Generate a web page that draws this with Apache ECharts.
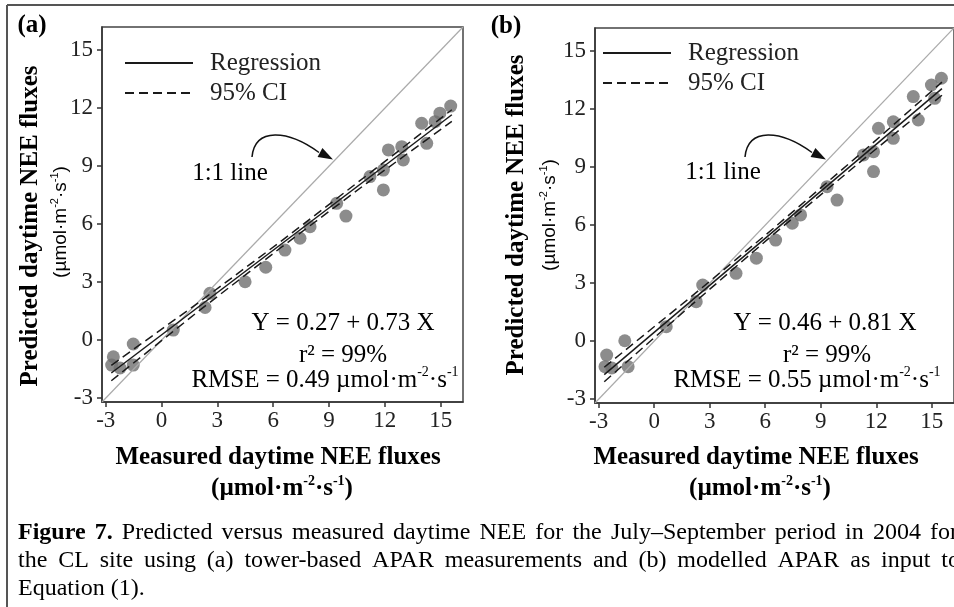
<!DOCTYPE html>
<html>
<head>
<meta charset="utf-8">
<script src="https://cdn.jsdelivr.net/npm/echarts@6/dist/echarts.min.js"></script>
<style>
html,body{margin:0;padding:0;background:#fff;}
#main{width:954px;height:607px;}
</style>
</head>
<body>
<div id="main"></div>
<script>
// (a) tower-based APAR
var measured_a  = [15.54, 14.96, 14.70, 13.98, 14.25, 12.91, 12.99, 12.19, 11.92, 11.92, 11.20, 9.91, 9.41, 7.98, 7.44, 6.63, 5.60, 4.49, 2.60, 2.34, 0.63, -1.52, -1.52, -2.59, -2.68, -2.23];
var predicted_a = [12.11, 11.74, 11.30, 11.22, 10.18, 10.01, 9.32, 9.84, 8.80, 7.77, 8.46, 6.42, 7.08, 5.87, 5.27, 4.66, 3.77, 3.02, 2.42, 1.69, 0.52, -0.20, -1.29, -0.86, -1.29, -1.44];
// (b) modelled APAR
var measured_b  = [15.52, 14.98, 15.16, 14.00, 14.27, 12.92, 12.92, 12.12, 11.85, 11.85, 11.31, 9.88, 9.34, 7.91, 7.46, 6.56, 5.52, 4.42, 2.62, 2.27, 0.65, -1.59, -1.41, -2.57, -2.66, -2.29];
var predicted_b = [13.60, 13.25, 12.56, 12.65, 11.44, 11.35, 10.49, 11.01, 9.80, 8.77, 9.63, 7.30, 7.99, 6.53, 6.10, 5.23, 4.29, 3.51, 2.90, 2.04, 0.75, 0.02, -1.32, -0.72, -1.32, -1.39];

// regression lines, ends
var reg_x_a = [-2.7, 15.6];
var reg_y_a = [-1.70, 11.66];
var reg_x_b = [-2.7, 15.55];
var reg_y_b = [-1.73, 13.06];

// 95% CI
var ci_x_a = [-2.7, 2, 6.4, 11, 15.6];
var ci_upper_a = [-1.30, 1.95, 5.10, 8.50, 11.92];
var ci_lower_a = [-2.10, 1.51, 4.78, 8.10, 11.32];
var ci_x_b = [-2.7, 2, 6.4, 11, 15.55];
var ci_upper_b = [-1.35, 2.30, 5.80, 9.57, 13.40];
var ci_lower_b = [-2.10, 1.86, 5.49, 9.17, 12.72];

var one_to_one = [-3.2, 16.2];
var ticks = [-3, 0, 3, 6, 9, 12, 15];
var axis_min = -3.2, axis_max = 16.2;

var SERIF = 'Liberation Serif', SANS = 'Liberation Sans', INK = '#222';
var CAP_SIZE = 24;

var chart = echarts.init(document.getElementById('main'));

function pairs(xs, ys){
	return xs.map(function(x, i){ return [x, ys[i]]; });
}

function xAxisFor(i){
	return {
		type: 'value', gridIndex: i, min: axis_min, max: axis_max,
		axisLine: {show: true, onZero: false, lineStyle: {color: '#333', width: 1.5}},
		axisTick: {show: true, customValues: ticks, length: 5, lineStyle: {color: '#333', width: 1.5}},
		axisLabel: {customValues: ticks, fontFamily: SERIF, fontSize: 23, color: INK, margin: 7},
		splitLine: {show: false}
	};
}

function yAxisFor(i){
	return {
		type: 'value', gridIndex: i, min: axis_min, max: axis_max,
		axisLine: {show: true, onZero: false, lineStyle: {color: '#333', width: 1.5}},
		axisTick: {show: true, customValues: ticks, length: 5, lineStyle: {color: '#333', width: 1.5}},
		axisLabel: {customValues: ticks, fontFamily: SERIF, fontSize: 23, color: INK, margin: 9},
		splitLine: {show: false}
	};
}

function panelSeries(i, mx, py, rx, ry, cx, cu, cl){
	return [
		{type: 'scatter', xAxisIndex: i, yAxisIndex: i, data: pairs(mx, py), symbolSize: 13,
			itemStyle: {color: '#6f6f6f'}, z: 2},
		{type: 'line', xAxisIndex: i, yAxisIndex: i, data: pairs(one_to_one, one_to_one), symbol: 'none',
			lineStyle: {color: '#aaa', width: 1.2}, z: 3},
		{name: 'Regression', type: 'line', xAxisIndex: i, yAxisIndex: i, data: pairs(rx, ry), symbol: 'none',
			itemStyle: {color: '#1a1a1a'}, lineStyle: {color: '#1a1a1a', width: 1.5}, z: 4},
		{name: '95% CI', type: 'line', xAxisIndex: i, yAxisIndex: i, data: pairs(cx, cu), symbol: 'none',
			itemStyle: {color: '#1a1a1a'}, lineStyle: {color: '#1a1a1a', width: 1.5, type: [9, 5]}, z: 4},
		{name: '95% CI', type: 'line', xAxisIndex: i, yAxisIndex: i, data: pairs(cx, cl), symbol: 'none',
			itemStyle: {color: '#1a1a1a'}, lineStyle: {color: '#1a1a1a', width: 1.5, type: [9, 5]}, z: 4}
	];
}

function legendFor(left, top){
	return {
		data: ['Regression', '95% CI'], orient: 'vertical', left: left, top: top, padding: 0,
		itemWidth: 68, itemHeight: 14, itemGap: 0, selectedMode: false,
		itemStyle: {opacity: 0},
		textStyle: {fontFamily: SERIF, fontSize: 25, color: INK, lineHeight: 30, padding: [0, 0, 0, 12]}
	};
}

var rich = {
	n: {fontFamily: SERIF, fontSize: 25, color: INK, lineHeight: 30},
	s: {fontFamily: SERIF, fontSize: 14, color: INK, lineHeight: 14, verticalAlign: 'top'},
	b: {fontFamily: SERIF, fontSize: 25, fontWeight: 'bold', color: INK, lineHeight: 30},
	bs: {fontFamily: SERIF, fontSize: 14, fontWeight: 'bold', color: INK, lineHeight: 14, verticalAlign: 'top'},
	u: {fontFamily: SANS, fontSize: 19, color: INK, lineHeight: 24},
	us: {fontFamily: SANS, fontSize: 11, color: INK, lineHeight: 11, verticalAlign: 'top'}
};

function label(x, y, text, rotate){
	return {
		type: 'text', x: x, y: y, rotation: rotate ? Math.PI / 2 : 0,
		style: {text: text, rich: rich, align: 'center', verticalAlign: 'middle',
			textAlign: 'center', textVerticalAlign: 'middle'}
	};
}

function arrow(dx){
	return [
		{type: 'bezierCurve', shape: {x1: 252 + dx, y1: 157, cpx1: 255 + dx, cpy1: 127, cpx2: 288 + dx, cpy2: 130, x2: 319 + dx, y2: 152.5},
			style: {stroke: '#111', lineWidth: 1.5, fill: null}},
		{type: 'polygon', shape: {points: [[333 + dx, 159.5], [317.6 + dx, 156.9], [322.4 + dx, 148.1]]},
			style: {fill: '#111'}}
	];
}

// caption, justified like the journal page
var ctx = document.createElement('canvas').getContext('2d');
function wordWidth(w, bold){
	ctx.font = (bold ? 'bold ' : '') + CAP_SIZE + 'px "' + SERIF + '"';
	return ctx.measureText(w).width;
}
var capRich = {
	c: {fontFamily: SERIF, fontSize: CAP_SIZE, color: INK},
	cb: {fontFamily: SERIF, fontSize: CAP_SIZE, fontWeight: 'bold', color: INK}
};
function captionLine(key, boldPart, rest, width){
	var words = [];
	if (boldPart) boldPart.split(' ').forEach(function(w){ words.push({t: w, b: true}); });
	rest.split(' ').forEach(function(w){ words.push({t: w, b: false}); });
	var gap = wordWidth(' ', false);
	if (width) {
		var sum = 0;
		words.forEach(function(w){ sum += wordWidth(w.t, w.b); });
		gap = Math.max(3, (width - sum) / (words.length - 1));
	}
	capRich[key] = {fontFamily: SERIF, fontSize: CAP_SIZE, width: gap};
	return words.map(function(w){ return '{' + (w.b ? 'cb' : 'c') + '|' + w.t + '}'; }).join('{' + key + '| }');
}
var cap1 = captionLine('g1', 'Figure 7.', 'Predicted versus measured daytime NEE for the July–September period in 2004 for', 940);
var cap2 = captionLine('g2', '', 'the CL site using (a) tower-based APAR measurements and (b) modelled APAR as input to', 942);
var cap3 = captionLine('g3', '', 'Equation (1).', null);

function captionText(y, text){
	return {type: 'text', x: 18, y: y,
		style: {text: text, rich: capRich, align: 'left', verticalAlign: 'middle', textAlign: 'left', textVerticalAlign: 'middle'}};
}

var graphics = [
	{type: 'line', shape: {x1: 7, y1: 5, x2: 954, y2: 5}, style: {stroke: '#555', lineWidth: 2}},
	{type: 'line', shape: {x1: 7, y1: 5, x2: 7, y2: 607}, style: {stroke: '#555', lineWidth: 2}},
	label(32, 26, '{b|(a)}'),
	label(506, 27, '{b|(b)}'),
	label(230, 173, '{n|1:1 line}'),
	label(723, 172, '{n|1:1 line}'),
	label(343, 323, '{n|Y = 0.27 + 0.73 X}'),
	label(343, 355, '{n|r² = 99%}'),
	label(325, 380, '{n|RMSE = 0.49 µmol·m}{s|-2}{n|·s}{s|-1}'),
	label(825, 323, '{n|Y = 0.46 + 0.81 X}'),
	label(827, 355, '{n|r² = 99%}'),
	label(807, 380, '{n|RMSE = 0.55 µmol·m}{s|-2}{n|·s}{s|-1}'),
	label(278, 458, '{b|Measured daytime NEE fluxes}'),
	label(282, 489, '{b|(µmol·m}{bs|-2}{b|·s}{bs|-1}{b|)}'),
	label(756, 458, '{b|Measured daytime NEE fluxes}'),
	label(760, 489, '{b|(µmol·m}{bs|-2}{b|·s}{bs|-1}{b|)}'),
	label(31, 226, '{b|Predicted daytime NEE fluxes}', true),
	label(61, 222, '{u|(µmol·m}{us|-2}{u|·s}{us|-1}{u|)}', true),
	label(517, 215, '{b|Predicted daytime NEE fluxes}', true),
	label(550, 215, '{u|(µmol·m}{us|-2}{u|·s}{us|-1}{u|)}', true),
	captionText(533, cap1),
	captionText(561, cap2),
	captionText(589, cap3)
].concat(arrow(0), arrow(493));

chart.setOption({
	animation: false,
	backgroundColor: '#fff',
	grid: [
		{left: 102, top: 27, width: 361, height: 375, show: true, borderColor: '#444', borderWidth: 1.5, backgroundColor: 'transparent'},
		{left: 595, top: 28, width: 361, height: 375, show: true, borderColor: '#444', borderWidth: 1.5, backgroundColor: 'transparent'}
	],
	legend: [legendFor(124, 48), legendFor(602, 38)],
	xAxis: [xAxisFor(0), xAxisFor(1)],
	yAxis: [yAxisFor(0), yAxisFor(1)],
	series: panelSeries(0, measured_a, predicted_a, reg_x_a, reg_y_a, ci_x_a, ci_upper_a, ci_lower_a)
		.concat(panelSeries(1, measured_b, predicted_b, reg_x_b, reg_y_b, ci_x_b, ci_upper_b, ci_lower_b)),
	graphic: graphics
});
</script>
</body>
</html>
